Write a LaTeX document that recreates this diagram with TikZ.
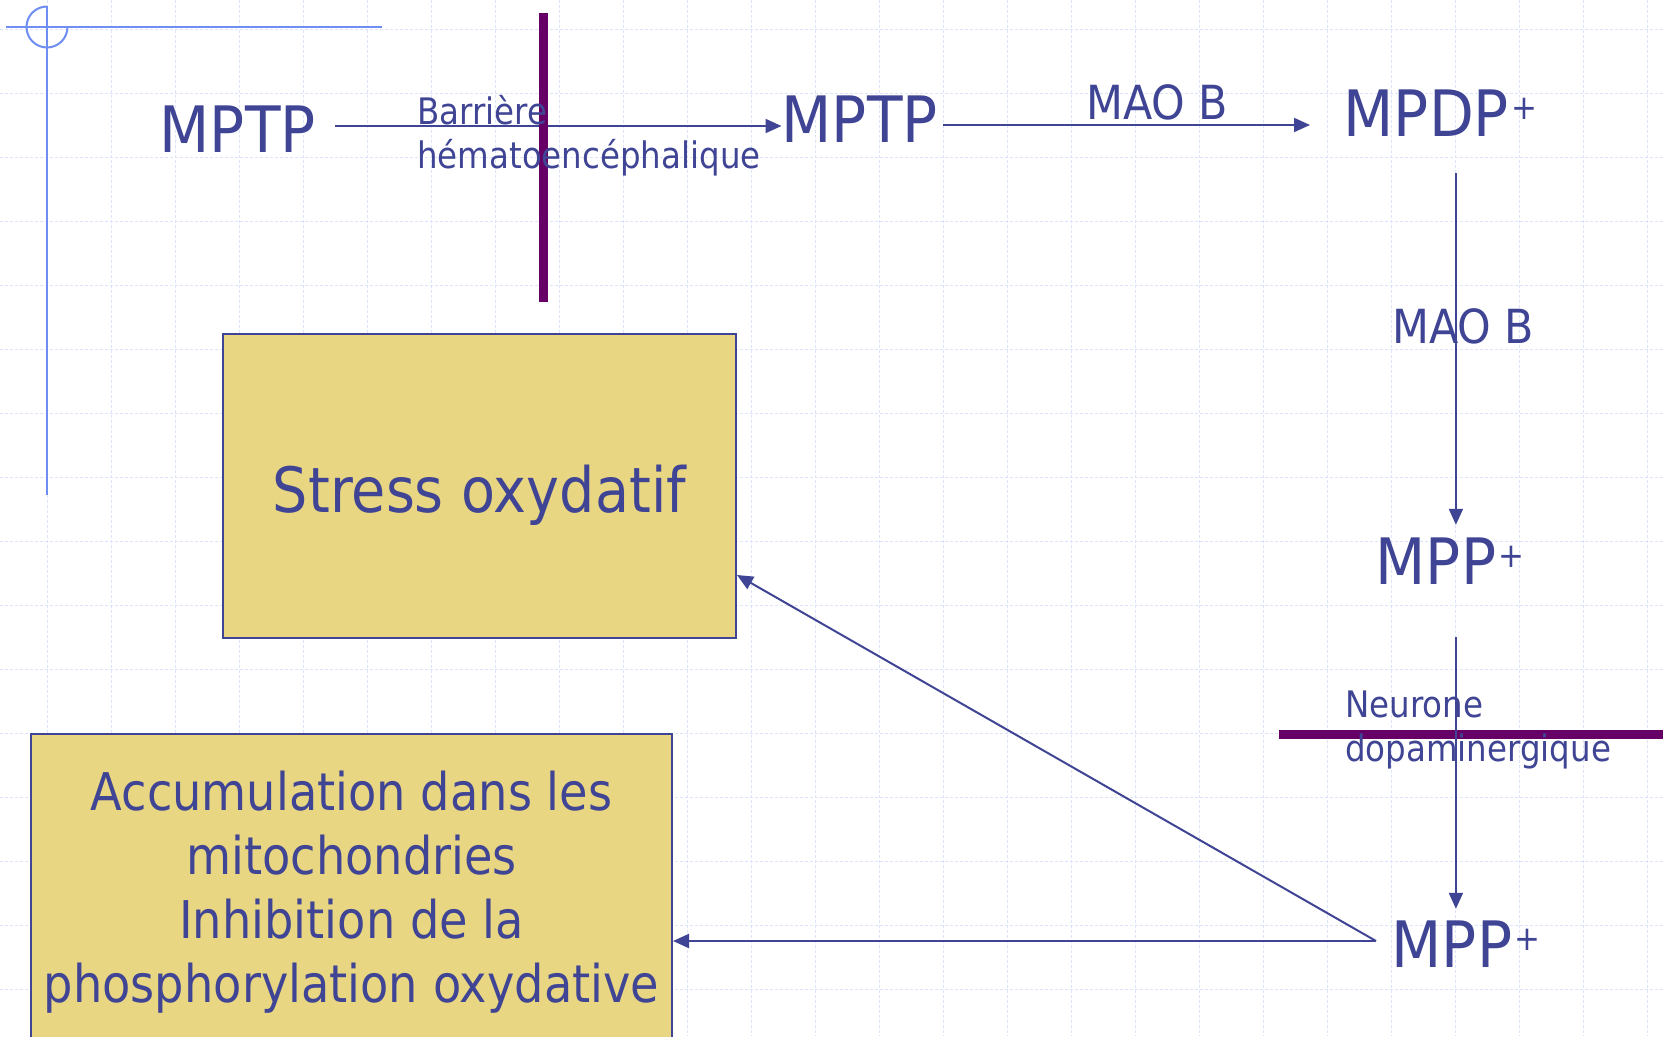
\documentclass[tikz,border=0pt]{standalone}
\usepackage{fontspec}
\setmainfont{DejaVu Sans}[FakeStretch=0.89]
\newfontfamily\chemfont{DejaVu Sans}[FakeStretch=0.91]
\usetikzlibrary{arrows.meta}
\definecolor{inkblue}{HTML}{3F4594}
\definecolor{gridblue}{HTML}{DDE3F9}
\definecolor{markblue}{HTML}{6F8EF2}
\definecolor{barpurple}{HTML}{660066}
\definecolor{boxyellow}{HTML}{E9D682}
\newcommand*\chplus{\kern2pt\raisebox{17pt}{\fontsize{34pt}{34pt}\selectfont +}}
\tikzset{
  paper/.style={draw=gridblue, line width=1pt, dash pattern=on 3pt off 2pt},
  tabmark/.style={draw=markblue, line width=2pt},
  chem/.style={font=\chemfont\fontsize{64pt}{64pt}\selectfont, text=inkblue, inner sep=0pt,
    text height=47pt, text depth=0pt, anchor=base west},
  enzyme/.style={font=\chemfont\fontsize{47pt}{47pt}\selectfont, text=inkblue, inner sep=0pt, anchor=base west},
  site/.style={font=\fontsize{36.5pt}{44pt}\selectfont, text=inkblue, inner sep=0pt,
    align=left, anchor=base west},
  effect/.style={draw=inkblue, line width=2pt, fill=boxyellow, text=inkblue,
    inner sep=0pt, align=center},
  flow/.style={draw=inkblue, line width=2pt, -{Triangle[length=16pt,width=14pt]}},
  membrane/.style={draw=barpurple, line width=9pt},
}
\begin{document}
\begin{tikzpicture}[x=1pt, y=-1pt]
	\useasboundingbox (0,0) rectangle (1665,1036);
	\fill[white] (0,0) rectangle (1665,1036);
	\clip (0,0) rectangle (1665,1036);
	% background grid and corner mark
	\foreach \gx in {47,111,...,1665} \draw[paper] (\gx,0) -- (\gx,1036);
	\foreach \gy in {29,93,...,1036} \draw[paper] (0,\gy) -- (1665,\gy);
	\draw[tabmark] (6,27) -- (382,27);
	\draw[tabmark] (47,6) -- (47,495);
	\draw[tabmark] (47,6.5) arc[start angle=90, end angle=360, radius=20.5pt];
	% effects
	\node[effect, minimum width=513pt, minimum height=304pt, font=\fontsize{62.5pt}{63pt}\selectfont,
		text height=52pt, text depth=0pt] (stress) at (479.5,486) {Stress oxydatif};
	\node[effect, minimum width=641pt, minimum height=316pt, font=\fontsize{52pt}{64pt}\selectfont]
		(accum) at (351.5,892) {Accumulation dans les\\mitochondries\\Inhibition de la\\phosphorylation oxydative};
	% molecules
	\node[chem] (mptpA) at (159.5,152) {MPTP};
	\node[chem] (mptpB) at (781.5,142) {MPTP};
	\node[chem] (mpdp) at (1343.5,136) {MPDP\chplus};
	\node[chem] (mppA) at (1375.5,584) {MPP\chplus};
	\node[chem] (mppB) at (1391.5,967) {MPP\chplus};
	\node[enzyme] (maoA) at (1086,119) {MAO B};
	\node[enzyme] (maoB) at (1392,343) {MAO B};
	% pathway
	\draw[flow, shorten <=19.5pt] ([yshift=2.5pt]mptpA.east) -- ([yshift=-7.5pt]mptpB.west);
	\draw[flow, shorten <=5.5pt, shorten >=33.5pt] ([yshift=-6.5pt]mptpB.east) -- ([yshift=-12.5pt]mpdp.west);
	\draw[flow, shorten <=37pt, shorten >=12pt] ([xshift=6pt]mpdp.south -| mppA.north) -- ([xshift=6pt]mppA.north);
	% barriers
	\draw[membrane] (543,13) -- (543,302);
	\draw[membrane] (1279,734) -- (1663,734);
	\draw[flow, shorten <=53pt, shorten >=11pt] ([xshift=6pt]mppA.south) -- ([xshift=6pt]mppA.south |- mppB.north);
	\coordinate (fork) at ([xshift=-15.5pt,yshift=2.5pt]mppB.west);
	\draw[flow] (fork) -- (fork -| accum.east);
	\draw[flow] (fork) -- ([yshift=-89pt]stress.east);
	% barrier labels
	\node[site] (bhe) at (417,168) {Barrière\\hématoencéphalique};
	\node[site] (neuro) at (1345,761) {Neurone\\dopaminergique};
\end{tikzpicture}
\end{document}
